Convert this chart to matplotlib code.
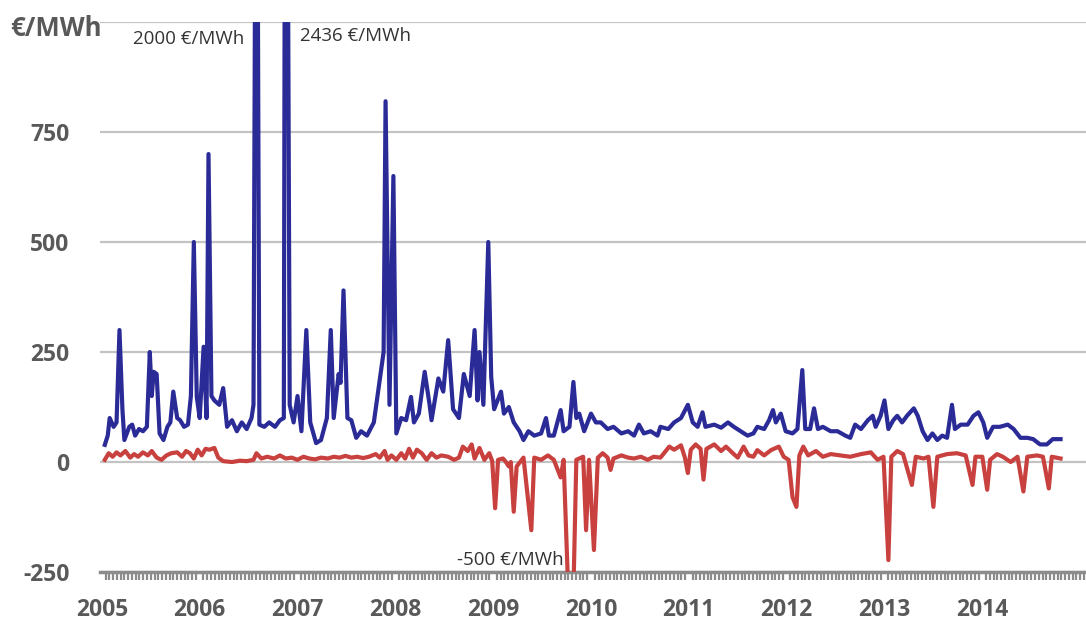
import matplotlib
matplotlib.use("Agg")
import matplotlib.pyplot as plt
from matplotlib.ticker import MultipleLocator, FixedLocator

# weekly price peaks (blue) and troughs (red), decimal years
blue_t = [2005.03, 2005.06, 2005.08, 2005.12, 2005.15, 2005.18, 2005.21, 2005.23, 2005.28, 2005.31,
          2005.34, 2005.38, 2005.42, 2005.46, 2005.49, 2005.51, 2005.53, 2005.56, 2005.59, 2005.63,
          2005.67, 2005.70, 2005.73, 2005.77, 2005.80, 2005.84, 2005.88, 2005.91, 2005.94, 2005.97,
          2006.00, 2006.04, 2006.07, 2006.09, 2006.12, 2006.15, 2006.20, 2006.24, 2006.28, 2006.33,
          2006.38, 2006.43, 2006.48, 2006.53, 2006.55, 2006.58, 2006.61, 2006.66, 2006.71, 2006.77,
          2006.82, 2006.86, 2006.88, 2006.92, 2006.96, 2007.00, 2007.04, 2007.09, 2007.13, 2007.19,
          2007.24, 2007.30, 2007.34, 2007.37, 2007.42, 2007.44, 2007.47, 2007.51, 2007.55, 2007.60,
          2007.65, 2007.71, 2007.78, 2007.84, 2007.88, 2007.90, 2007.94, 2007.98, 2008.01, 2008.06,
          2008.11, 2008.16, 2008.19, 2008.24, 2008.30, 2008.35, 2008.37, 2008.44, 2008.49, 2008.54,
          2008.59, 2008.65, 2008.70, 2008.76, 2008.81, 2008.84, 2008.86, 2008.90, 2008.95, 2008.98,
          2009.01, 2009.08, 2009.11, 2009.16, 2009.21, 2009.27, 2009.31, 2009.36, 2009.42, 2009.49,
          2009.54, 2009.57, 2009.62, 2009.69, 2009.72, 2009.78, 2009.82, 2009.85, 2009.88, 2009.93,
          2010.00, 2010.05, 2010.10, 2010.17, 2010.23, 2010.31, 2010.38, 2010.44, 2010.49, 2010.54,
          2010.61, 2010.68, 2010.71, 2010.79, 2010.85, 2010.92, 2010.99, 2011.04, 2011.09, 2011.14,
          2011.17, 2011.26, 2011.33, 2011.40, 2011.46, 2011.53, 2011.60, 2011.66, 2011.70, 2011.77,
          2011.82, 2011.86, 2011.89, 2011.94, 2011.99, 2012.06, 2012.11, 2012.16, 2012.19, 2012.24,
          2012.28, 2012.32, 2012.37, 2012.45, 2012.52, 2012.60, 2012.65, 2012.70, 2012.76, 2012.83,
          2012.88, 2012.91, 2012.96, 2013.00, 2013.04, 2013.09, 2013.13, 2013.18, 2013.23, 2013.30,
          2013.34, 2013.39, 2013.44, 2013.49, 2013.54, 2013.59, 2013.64, 2013.69, 2013.72, 2013.78,
          2013.85, 2013.91, 2013.96, 2014.01, 2014.05, 2014.11, 2014.18, 2014.26, 2014.32, 2014.39,
          2014.46, 2014.52, 2014.59, 2014.66, 2014.72, 2014.80]
blue_v = [39, 60, 100, 80, 90, 300, 120, 50, 80, 85,
          60, 75, 70, 80, 250, 150, 205, 200, 65, 50,
          80, 90, 160, 100, 95, 80, 85, 150, 500, 148,
          100, 262, 100, 700, 150, 140, 130, 168, 80, 95,
          70, 90, 75, 100, 130, 2000, 85, 80, 90, 80,
          95, 100, 2436, 130, 90, 150, 70, 300, 90, 43,
          50, 100, 300, 100, 200, 180, 390, 100, 95, 55,
          70, 60, 90, 186, 250, 820, 130, 650, 65, 100,
          95, 148, 90, 110, 205, 130, 95, 190, 160, 277,
          120, 100, 200, 150, 300, 140, 250, 130, 500, 193,
          120, 160, 110, 125, 90, 70, 50, 70, 60, 65,
          100, 60, 60, 118, 70, 80, 182, 100, 110, 70,
          110, 90, 90, 75, 80, 65, 70, 60, 85, 65,
          70, 60, 80, 75, 90, 100, 130, 90, 80, 113,
          80, 85, 78, 90, 80, 70, 60, 65, 80, 75,
          95, 118, 90, 110, 70, 65, 75, 209, 75, 75,
          122, 75, 80, 70, 70, 60, 55, 85, 75, 95,
          105, 80, 105, 140, 75, 95, 105, 90, 105, 122,
          105, 70, 50, 65, 50, 60, 55, 130, 75, 85,
          85, 105, 113, 90, 55, 80, 80, 85, 75, 55,
          55, 52, 40, 40, 52, 52]

red_t = [2005.03, 2005.07, 2005.11, 2005.15, 2005.19, 2005.24, 2005.29, 2005.33, 2005.37, 2005.42,
         2005.47, 2005.51, 2005.56, 2005.61, 2005.66, 2005.71, 2005.77, 2005.82, 2005.86, 2005.90,
         2005.94, 2005.98, 2006.02, 2006.06, 2006.10, 2006.15, 2006.19, 2006.24, 2006.33, 2006.41,
         2006.48, 2006.55, 2006.58, 2006.63, 2006.69, 2006.76, 2006.82, 2006.88, 2006.94, 2007.00,
         2007.06, 2007.12, 2007.18, 2007.24, 2007.31, 2007.37, 2007.43, 2007.49, 2007.55, 2007.61,
         2007.67, 2007.73, 2007.80, 2007.84, 2007.89, 2007.92, 2007.96, 2008.01, 2008.06, 2008.10,
         2008.14, 2008.18, 2008.22, 2008.27, 2008.32, 2008.37, 2008.42, 2008.47, 2008.54, 2008.60,
         2008.65, 2008.69, 2008.74, 2008.78, 2008.81, 2008.86, 2008.91, 2008.96, 2008.99, 2009.02,
         2009.05, 2009.10, 2009.13, 2009.16, 2009.18, 2009.21, 2009.24, 2009.31, 2009.39, 2009.42,
         2009.49, 2009.56, 2009.62, 2009.69, 2009.72, 2009.80, 2009.85, 2009.92, 2009.95, 2009.98,
         2010.03, 2010.07, 2010.12, 2010.17, 2010.20, 2010.23, 2010.31, 2010.38, 2010.44, 2010.51,
         2010.58, 2010.64, 2010.71, 2010.80, 2010.85, 2010.92, 2010.96, 2010.99, 2011.02, 2011.07,
         2011.12, 2011.15, 2011.18, 2011.26, 2011.33, 2011.38, 2011.45, 2011.50, 2011.56, 2011.61,
         2011.66, 2011.70, 2011.77, 2011.84, 2011.92, 2011.97, 2012.02, 2012.06, 2012.10, 2012.13,
         2012.17, 2012.22, 2012.30, 2012.37, 2012.45, 2012.55, 2012.65, 2012.76, 2012.86, 2012.93,
         2012.99, 2013.04, 2013.07, 2013.13, 2013.19, 2013.28, 2013.32, 2013.40, 2013.45, 2013.50,
         2013.54, 2013.64, 2013.74, 2013.83, 2013.90, 2013.93, 2014.00, 2014.05, 2014.08, 2014.15,
         2014.21, 2014.29, 2014.36, 2014.42, 2014.46, 2014.56, 2014.62, 2014.68, 2014.71, 2014.80]
red_v = [5, 20, 12, 22, 15, 25, 10, 18, 12, 22,
         15, 25, 10, 5, 15, 20, 22, 12, 25, 20,
         8, 28, 15, 30, 28, 32, 10, 2, 0, 3,
         2, 5, 20, 8, 12, 8, 15, 8, 10, 5,
         12, 8, 6, 10, 8, 12, 10, 14, 10, 12,
         9, 12, 18, 10, 25, 5, 15, 5, 20, 8,
         30, 10, 28, 20, 5, 20, 10, 15, 12, 5,
         10, 35, 25, 40, 8, 32, 5, 20, 2, -105,
         5, 8, 0, -10, 0, -113, -10, 10, -155, 10,
         5, 15, 5, -35, 5, -500, 5, 12, -155, 5,
         -200, 10, 20, 10, -18, 8, 15, 10, 8, 12,
         5, 12, 10, 35, 28, 38, 10, -25, 28, 40,
         30, -40, 30, 40, 25, 35, 20, 10, 35, 15,
         12, 27, 15, 27, 35, 12, 5, -80, -102, 15,
         35, 15, 25, 12, 18, 15, 12, 18, 22, 5,
         12, -223, 12, 25, 18, -52, 12, 8, 12, -102,
         12, 18, 20, 15, -52, 12, 12, -63, 5, 18,
         12, 0, 12, -67, 12, 15, 12, -60, 12, 8]

years = list(range(2005, 2015))
y_ticks = [-250, 0, 250, 500, 750, 1000]
y_labels = ["-250", "0", "250", "500", "750", ""]
unit = "€/MWh"

grey = "#595959"
plt.rcParams['font.family'] = ['Open Sans', 'DejaVu Sans']

fig = plt.figure(figsize=(10.86, 6.24), dpi=100)
ax = fig.add_axes([0.092, 0.0833, 0.908, 0.8814])

ax.plot(red_t, red_v, color="#c8413f", lw=3.0, solid_joinstyle="round", zorder=3)
ax.plot(blue_t, blue_v, color="#2b2b98", lw=3.0, solid_joinstyle="round", zorder=4)

ax.set_xlim(2004.98, 2015.06)
ax.set_ylim(-250, 1000)

ax.set_yticks(y_ticks)
ax.set_yticklabels(y_labels)
ax.tick_params(axis="y", length=0, pad=22, labelsize=16.5, labelcolor=grey)
for lab in ax.get_yticklabels():
    lab.set_fontweight("bold")

ax.xaxis.set_major_locator(FixedLocator(years))
ax.set_xticklabels([str(y) for y in years])
ax.xaxis.set_minor_locator(MultipleLocator(1 / 26))
ax.tick_params(axis="x", which="major", length=0, pad=19, labelsize=16.5, labelcolor=grey)
ax.tick_params(axis="x", which="minor", direction="out", length=6, width=1.6, color="#8c8c8c")
for lab in ax.get_xticklabels():
    lab.set_fontweight("bold")

ax.grid(axis="y", color="#c3c3c3", lw=1.6, zorder=0)
ax.set_axisbelow(True)
for s in ["top", "right", "left"]:
    ax.spines[s].set_visible(False)
ax.spines["bottom"].set_color("#8c8c8c")
ax.spines["bottom"].set_linewidth(2.5)

# unit label sits where the 1000 tick label would be
fig.text(10 / 1086, 1 - 28 / 624, unit, ha="left", va="center", fontsize=18.5,
         fontweight="bold", color=grey)

ax.text(2006.46, 962, "2000 €/MWh", ha="right", va="center", fontsize=13.5, color="#333333")
ax.text(2007.03, 968, "2436 €/MWh", ha="left", va="center", fontsize=13.5, color="#333333")
ax.text(2009.72, -222, "-500 €/MWh", ha="right", va="center", fontsize=13.5, color="#333333")

fig.savefig("out.png", dpi=100)
